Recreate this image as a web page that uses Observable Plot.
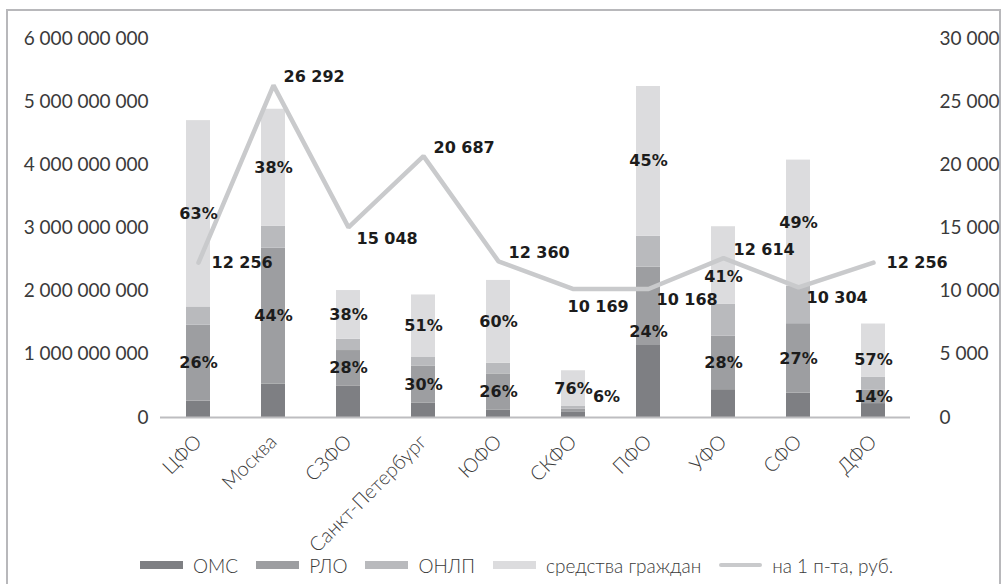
<!DOCTYPE html>
<html><head><meta charset="utf-8">
<script src="https://cdn.jsdelivr.net/npm/d3@7"></script>
<script src="https://cdn.jsdelivr.net/npm/@observablehq/plot@0.6"></script>
<style>
body{margin:0;background:#fff;}
#wrap{position:relative;width:1003px;height:584px;overflow:hidden;font-family:Lato,sans-serif;}
#frame{position:absolute;left:6px;top:9px;width:995px;height:600px;border:2px solid #b8b8bb;box-sizing:border-box;}
#chart{position:absolute;left:0;top:0;}
#legend{position:absolute;left:140px;top:554px;height:22px;display:flex;justify-content:flex-start;align-items:center;font-size:19px;color:#3a3a3a;font-weight:300;white-space:nowrap;}
.item{display:flex;align-items:center;margin-right:18px;}
.sw{width:43px;height:8px;margin-right:10px;}
.ln{width:43px;height:4px;border-radius:2px;margin-right:10px;}
</style>
</head><body>
<div id="wrap"><div id="frame"></div><div id="chart"></div><div id="legend"></div></div>
<script>
const categories = ["ЦФО","Москва","СЗФО","Санкт-Петербург","ЮФО","СКФО","ПФО","УФО","СФО","ДФО"];
const series = ["ОМС","РЛО","ОНЛП","средства граждан"];
const oms      = [260e6, 530e6, 500e6, 230e6, 120e6, 90e6, 1140e6, 440e6, 385e6, 220e6];
const rlo      = [1200e6, 2150e6, 560e6, 580e6, 570e6, 45e6, 1240e6, 850e6, 1100e6, 210e6];
const onlp     = [290e6, 350e6, 180e6, 140e6, 170e6, 40e6, 490e6, 500e6, 590e6, 210e6];
const citizens = [2950e6, 1850e6, 770e6, 990e6, 1310e6, 565e6, 2370e6, 1230e6, 2000e6, 840e6];
const perCapita = [12256, 26292, 15048, 20687, 12360, 10169, 10168, 12614, 10304, 12256];
const lineName = "на 1 п-та, руб.";
const leftTicks = [0, 1e9, 2e9, 3e9, 4e9, 5e9, 6e9];
const rightTicks = [0, 5000, 10000, 15000, 20000, 25000, 30000];

// label placement (presentation only, pixel shifts)
const lineLabelPlacement = ["right","above","below","above","above","under","below","above","below","right"];
const rloLabelShift = [0, 0, 0, 0, 0, 0, 26, 0, 0, 0];
const citLabelShift = [0, 0, 0, 0, 0, 0, 0, 11, 0, 9];

const colors = ["#7e7f83", "#9d9ea1", "#b9babd", "#dcdcde"];
const lineColor = "#c9cacc";
const leftMax = 6e9, rightMax = 30000;
const ratio = leftMax / rightMax;
const W = 1003, H = 545, mT = 38, mB = 128;
const plotH = H - mT - mB;
const fmt = v => d3.format(",")(v).replace(/,/g, " ");

const seriesValues = [oms, rlo, onlp, citizens];
const long = [];
categories.forEach((c, i) => series.forEach((s, j) => long.push({cat: c, series: s, value: seriesValues[j][i]})));

const pctLabels = [];
categories.forEach((c, i) => {
  const vals = seriesValues.map(a => a[i]);
  const total = d3.sum(vals);
  let cum = 0;
  vals.forEach((v, j) => {
    const mid = cum + v / 2;
    cum += v;
    if (j === 1 || j === 3) {
      const small = v / leftMax * plotH < 8;
      const shift = j === 1 ? rloLabelShift[i] : citLabelShift[i];
      pctLabels.push({cat: c, y: mid - shift * leftMax / plotH, text: Math.round(v / total * 100) + "%", small});
    }
  });
});

const lineData = categories.map((c, i) => ({cat: c, v: perCapita[i], y: perCapita[i] * ratio, pos: lineLabelPlacement[i]}));
const offs = {right: [13, 0], above: [10, -8], below: [8, 11], under: [-6, 18]};

const labelFont = {fontFamily: "DejaVu Sans, sans-serif", fontWeight: "bold", fontSize: 16, fill: "#1c1c1c"};

const marks = [
  Plot.barY(long, {x: "cat", y: "value", fill: "series", order: series}),
  Plot.ruleY([0], {stroke: "#bdbdc0", strokeWidth: 2}),
  Plot.line(lineData, {x: "cat", y: "y", stroke: lineColor, strokeWidth: 4.5, strokeLinejoin: "miter"}),
  Plot.text(pctLabels.filter(d => !d.small), {x: "cat", y: "y", text: "text", ...labelFont}),
  Plot.text(pctLabels.filter(d => d.small), {x: "cat", y: "y", text: "text", dx: 33, dy: -14, ...labelFont}),
];
for (const [k, [dx, dy]] of Object.entries(offs)) {
  marks.push(Plot.text(lineData.filter(d => d.pos === k), {x: "cat", y: "y", text: d => fmt(d.v), textAnchor: "start", dx, dy, ...labelFont}));
}
marks.push(
  Plot.axisY({anchor: "left", ticks: leftTicks, tickSize: 0, tickPadding: 12, tickFormat: fmt, label: null, fontSize: 19, fill: "#3a3a3a"}),
  Plot.axisY({anchor: "right", ticks: rightTicks.map(t => t * ratio), tickSize: 0, tickPadding: 29, tickFormat: d => fmt(Math.round(d / ratio)), label: null, fontSize: 19, fill: "#3a3a3a"}),
  Plot.axisX({tickRotate: -45, tickSize: 0, tickPadding: 21, label: null, fontSize: 20, fill: "#3a3a3a"})
);

const chart = Plot.plot({
  width: W, height: H,
  marginLeft: 160, marginRight: 93, marginTop: mT, marginBottom: mB,
  style: {fontFamily: "Lato, sans-serif", fontWeight: 400, color: "#3a3a3a", background: "transparent", overflow: "visible"},
  x: {domain: categories, paddingInner: 0.68, paddingOuter: 0.34, label: null},
  y: {domain: [0, leftMax], label: null},
  color: {domain: series, range: colors},
  marks
});
document.getElementById("chart").appendChild(chart);
chart.querySelectorAll("g[aria-label='x-axis tick label'] text").forEach(t => t.style.fontWeight = 300);

const legend = document.getElementById("legend");
series.forEach((s, j) => {
  const it = document.createElement("div"); it.className = "item";
  it.innerHTML = `<div class="sw" style="background:${colors[j]}"></div><span>${s}</span>`;
  legend.appendChild(it);
});
const li = document.createElement("div"); li.className = "item";
li.innerHTML = `<div class="ln" style="background:${lineColor}"></div><span>${lineName}</span>`;
legend.appendChild(li);
</script>
</body></html>
